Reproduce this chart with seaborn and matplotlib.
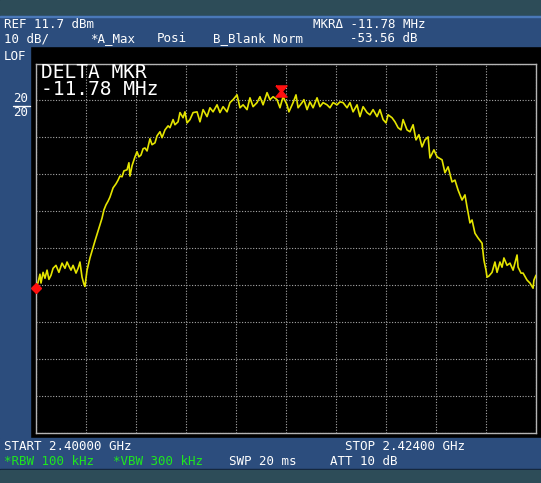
import matplotlib
matplotlib.use("Agg")
import matplotlib.pyplot as plt
import matplotlib.patches as mpatches
import seaborn as sns
import pandas as pd

# sweep 2.400 - 2.424 GHz, trace A (max hold)
freq_mhz = [
    2400.00, 2400.10, 2400.19, 2400.24, 2400.34, 2400.43, 2400.53, 2400.62, 2400.72, 2400.82,
    2400.96, 2401.10, 2401.25, 2401.39, 2401.49, 2401.58, 2401.68, 2401.78, 2401.92, 2402.02,
    2402.11, 2402.21, 2402.30, 2402.35, 2402.45, 2402.59, 2402.69, 2402.83, 2402.98, 2403.07,
    2403.17, 2403.26, 2403.36, 2403.46, 2403.55, 2403.70, 2403.84, 2403.94, 2404.03, 2404.13,
    2404.22, 2404.37, 2404.46, 2404.51, 2404.61, 2404.75, 2404.85, 2404.94, 2405.04, 2405.14,
    2405.23, 2405.33, 2405.47, 2405.57, 2405.71, 2405.81, 2405.95, 2406.05, 2406.19, 2406.34,
    2406.43, 2406.58, 2406.67, 2406.82, 2406.91, 2407.06, 2407.15, 2407.25, 2407.39, 2407.54,
    2407.73, 2407.87, 2408.02, 2408.21, 2408.35, 2408.50, 2408.69, 2408.83, 2408.98, 2409.17,
    2409.31, 2409.46, 2409.65, 2409.79, 2409.94, 2410.13, 2410.27, 2410.42, 2410.61, 2410.75,
    2410.90, 2411.09, 2411.23, 2411.38, 2411.57, 2411.71, 2411.86, 2412.05, 2412.14, 2412.34,
    2412.48, 2412.58, 2412.77, 2412.86, 2413.01, 2413.15, 2413.30, 2413.49, 2413.63, 2413.78,
    2413.97, 2414.11, 2414.26, 2414.45, 2414.59, 2414.74, 2414.93, 2415.07, 2415.22, 2415.41,
    2415.55, 2415.70, 2415.89, 2416.03, 2416.18, 2416.37, 2416.51, 2416.66, 2416.80, 2416.90,
    2417.09, 2417.23, 2417.38, 2417.52, 2417.62, 2417.81, 2417.95, 2418.10, 2418.24, 2418.38,
    2418.53, 2418.67, 2418.82, 2418.91, 2419.10, 2419.25, 2419.49, 2419.63, 2419.78, 2419.97,
    2420.11, 2420.26, 2420.45, 2420.59, 2420.69, 2420.83, 2420.93, 2421.07, 2421.22, 2421.41,
    2421.50, 2421.60, 2421.65, 2421.74, 2421.89, 2422.03, 2422.13, 2422.27, 2422.37, 2422.46,
    2422.61, 2422.75, 2422.90, 2423.09, 2423.14, 2423.28, 2423.38, 2423.57, 2423.71, 2423.86,
    2423.90, 2424.00,
]
level_dbm = [
    -49.2, -47.6, -45.4, -47.8, -44.9, -46.5, -44.3, -46.8, -45.7, -43.8,
    -43.0, -44.9, -42.4, -43.8, -42.1, -43.2, -44.3, -43.0, -45.1, -43.8,
    -42.1, -46.2, -48.1, -48.7, -44.3, -41.0, -39.1, -36.4, -33.7, -32.1,
    -30.2, -28.0, -26.6, -25.6, -24.5, -22.0, -20.9, -19.9, -18.8, -19.0,
    -17.4, -17.1, -15.2, -18.8, -16.0, -13.6, -12.2, -13.6, -13.1, -11.4,
    -11.2, -12.0, -8.7, -10.3, -9.8, -7.9, -6.8, -8.4, -6.3, -5.2,
    -5.7, -3.5, -4.9, -4.1, -1.6, -3.0, -1.4, -4.4, -3.5, -1.6,
    -1.4, -4.1, -0.8, -2.7, -0.3, -1.4, 0.5, -1.6, 0.0, -1.4,
    1.1, 1.9, 3.2, -0.3, 0.5, -0.8, 2.4, 0.0, 1.1, 2.7,
    0.5, 3.8, 1.9, 2.7, 1.9, -0.3, 2.7, 0.5, -1.4, 1.1,
    3.2, -0.3, 1.1, 1.9, -0.8, 1.3, -0.3, 2.4, 0.0, 1.1,
    0.5, -0.3, 1.1, 0.5, 1.3, 1.1, -0.3, 1.1, -1.4, 0.5,
    -2.7, 0.0, -1.6, -2.2, -0.8, -2.7, -0.8, -3.5, -4.4, -2.2,
    -3.0, -4.1, -5.7, -6.3, -3.5, -6.3, -6.8, -4.9, -9.0, -7.6,
    -10.9, -9.0, -8.2, -13.9, -11.7, -13.6, -14.4, -17.9, -16.3, -20.4,
    -19.9, -22.6, -25.3, -23.9, -27.2, -31.5, -30.7, -34.3, -35.6, -37.0,
    -41.6, -44.3, -46.2, -45.9, -44.9, -42.1, -44.9, -42.1, -43.5, -41.0,
    -43.0, -42.4, -44.3, -40.2, -43.5, -45.1, -45.1, -47.0, -47.8, -49.2,
    -47.0, -45.7,
]

ref_level = 11.7
db_per_div = 10
marker_ref = (2411.78, 4.36)     # reference marker (hourglass)
marker_delta = (2400.00, -49.2)  # delta marker (diamond)

df = pd.DataFrame({"freq": freq_mhz, "level": level_dbm})

W, H = 541, 483
fig = plt.figure(figsize=(W / 100, H / 100), dpi=100)
sns.set_style("dark")
fig.patch.set_facecolor("black")


def band(x0, y0, x1, y1, color):
    # rectangle in screen pixels (y from top)
    fig.patches.append(mpatches.Rectangle((x0 / W, 1 - y1 / H), (x1 - x0) / W, (y1 - y0) / H,
                                          transform=fig.transFigure, color=color, zorder=0))


band(0, 0, W, 16, "#2d4c58")
band(0, 16, W, 46, "#2c4d7d")
band(0, 15.5, W, 17, "#4a78b8")
band(0, 46, 30, 438, "#2c4d7d")
band(0, 438, W, 469, "#2c4d7d")
band(0, 468.5, W, 470, "#10203a")
band(0, 470, W, H, "#2d4c58")

ax = fig.add_axes([36 / W, (H - 432.5) / H, 500 / W, 369 / H])
ax.set_facecolor("black")

sns.lineplot(data=df, x="freq", y="level", ax=ax, color="#e4e400", lw=1.2,
             estimator=None, sort=False, zorder=3)

# markers
hourglass = [(-1, 1), (1, 1), (0.15, 0), (1, -1), (-1, -1), (-0.15, 0), (-1, 1)]
ax.plot([marker_ref[0]], [marker_ref[1]], marker=hourglass, color="#ff1010", ms=8,
        ls="none", zorder=5, clip_on=False)
ax.plot([marker_delta[0]], [marker_delta[1]], marker="D", color="#ff1010", ms=5,
        ls="none", zorder=5, clip_on=False)

ax.set_xlim(2400, 2424)
ax.set_ylim(ref_level - 10 * db_per_div, ref_level)
ax.set_xticks([2400 + 2.4 * i for i in range(11)])
ax.set_yticks([ref_level - db_per_div * i for i in range(11)])
ax.tick_params(length=0, labelbottom=False, labelleft=False)
ax.set_xlabel("")
ax.set_ylabel("")
ax.grid(True, color="#a8a8a8", lw=0.8, ls=(0, (1, 1.5)))
for s in ax.spines.values():
    s.set_visible(True)
    s.set_color("#b4b4b4")
    s.set_linewidth(1.0)

mono = "DejaVu Sans Mono"


def label(x, y, s, color="white", size=9, ha="left", **kw):
    fig.text(x / W, 1 - y / H, s, color=color, fontsize=size, family=mono,
             ha=ha, va="center", **kw)


# header
label(4, 25, "REF 11.7 dBm")
label(313, 25, "MKR\u0394 -11.78 MHz")
label(4, 39, "10 dB/")
label(90, 39, "*A_Max")
label(157, 39, "Posi")
label(213, 39, "B_Blank Norm")
label(350, 39, "-53.56 dB")
label(4, 57, "LOF")
label(28, 99, "20", ha="right")
label(28, 112.5, "20", ha="right")
fig.add_artist(plt.Line2D([13 / W, 30 / W], [1 - 105.5 / H, 1 - 105.5 / H],
                          color="white", lw=1, transform=fig.transFigure))

# delta marker readout
label(41, 81, "DELTA MKR\n-11.78 MHz", size=14, linespacing=0.9)

# footer
label(4, 446.5, "START 2.40000 GHz")
label(345, 446.5, "STOP 2.42400 GHz")
label(4, 461.5, "*RBW 100 kHz", color="#1ee81e")
label(113, 461.5, "*VBW 300 kHz", color="#1ee81e")
label(229, 461.5, "SWP 20 ms")
label(330, 461.5, "ATT 10 dB")

fig.savefig("out.png", dpi=100, facecolor=fig.get_facecolor())
